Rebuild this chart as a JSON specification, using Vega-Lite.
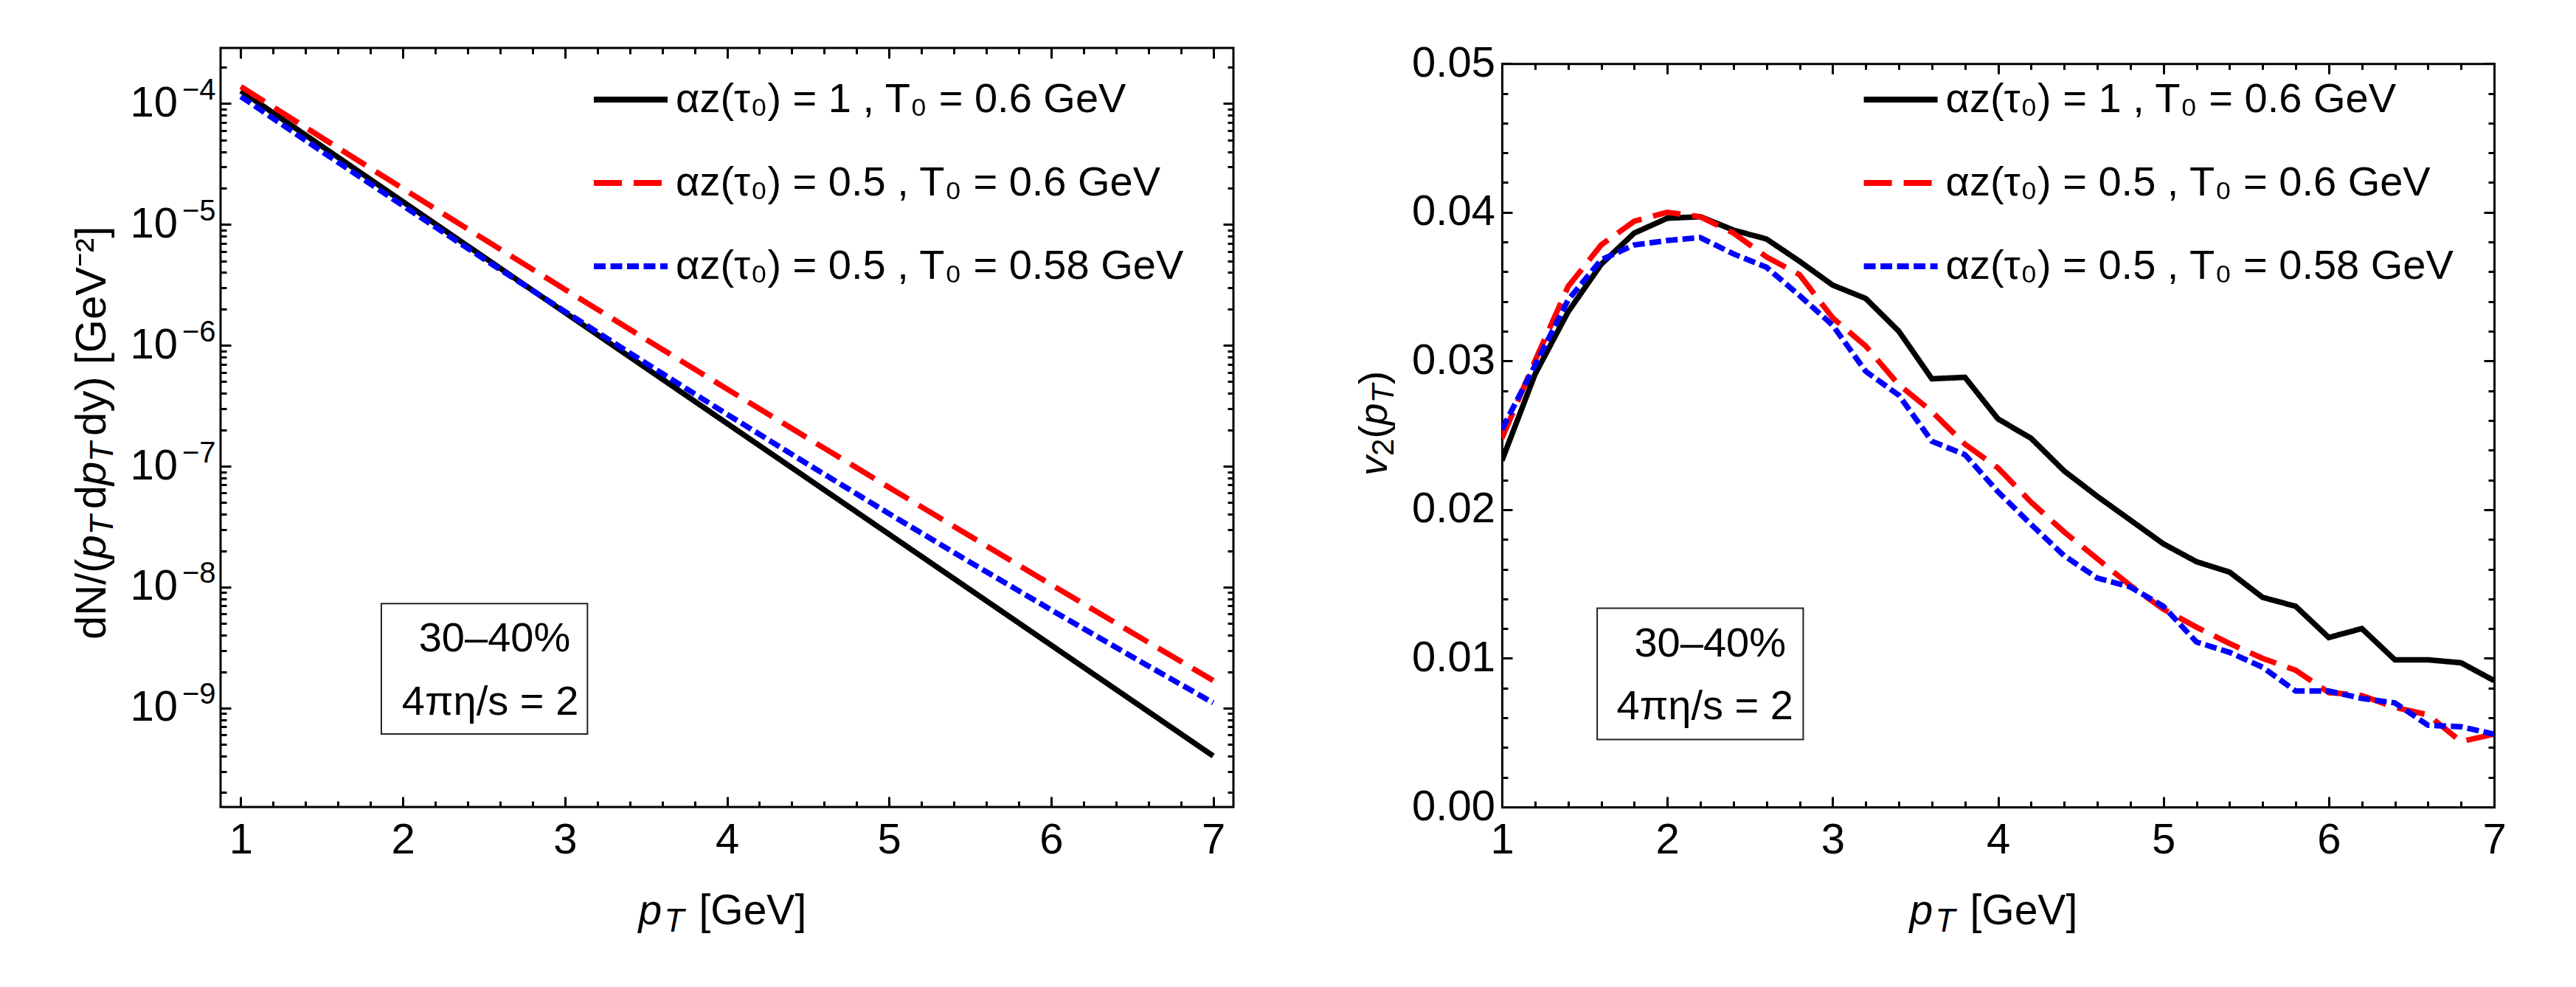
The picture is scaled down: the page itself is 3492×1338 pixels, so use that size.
{
  "$schema": "https://vega.github.io/schema/vega-lite/v6.json",
  "background": "white",
  "padding": {"left": 94, "top": 57, "right": 20, "bottom": 20},
  "config": {
    "font": "Liberation Sans",
    "view": {"stroke": "black", "strokeWidth": 3},
    "axis": {
      "domain": false, "grid": false,
      "domainColor": "black", "domainWidth": 3, "domainCap": "square",
      "labelFont": "Liberation Sans", "labelFontSize": 58, "labelColor": "black",
      "labelFlush": false, "labelOverlap": false, "labelBound": false,
      "tickColor": "black", "tickWidth": 3,
      "titleFont": "Liberation Sans", "titleFontSize": 57, "titleFontWeight": "normal", "titleColor": "black"
    },
    "axisLeft": {"titleAngle": 270, "titleAlign": "left", "titleBaseline": "alphabetic", "titleAnchor": null},
    "axisBottom": {"titleAngle": 0, "titleAlign": "left", "titleBaseline": "alphabetic", "titleAnchor": null},
    "legend": {
      "title": null, "orient": "none", "padding": 0,
      "symbolType": "stroke", "symbolSize": 10000, "symbolStrokeWidth": 8,
      "labelFont": "Liberation Sans", "labelFontSize": 56, "labelColor": "black",
      "labelOffset": 7, "labelLimit": 0, "rowPadding": 31
    }
  },
  "datasets": {
    "spectra": [
      {"series": "αz(τ₀) = 1 , T₀ = 0.6 GeV", "pT": 1.0, "dN": 1.274e-4},
      {"series": "αz(τ₀) = 1 , T₀ = 0.6 GeV", "pT": 1.5, "dN": 4.432e-5},
      {"series": "αz(τ₀) = 1 , T₀ = 0.6 GeV", "pT": 2.0, "dN": 1.542e-5},
      {"series": "αz(τ₀) = 1 , T₀ = 0.6 GeV", "pT": 2.5, "dN": 5.368e-6},
      {"series": "αz(τ₀) = 1 , T₀ = 0.6 GeV", "pT": 3.0, "dN": 1.868e-6},
      {"series": "αz(τ₀) = 1 , T₀ = 0.6 GeV", "pT": 3.5, "dN": 6.501e-7},
      {"series": "αz(τ₀) = 1 , T₀ = 0.6 GeV", "pT": 4.0, "dN": 2.262e-7},
      {"series": "αz(τ₀) = 1 , T₀ = 0.6 GeV", "pT": 4.5, "dN": 7.875e-8},
      {"series": "αz(τ₀) = 1 , T₀ = 0.6 GeV", "pT": 5.0, "dN": 2.740e-8},
      {"series": "αz(τ₀) = 1 , T₀ = 0.6 GeV", "pT": 5.5, "dN": 9.537e-9},
      {"series": "αz(τ₀) = 1 , T₀ = 0.6 GeV", "pT": 6.0, "dN": 3.319e-9},
      {"series": "αz(τ₀) = 1 , T₀ = 0.6 GeV", "pT": 6.5, "dN": 1.155e-9},
      {"series": "αz(τ₀) = 1 , T₀ = 0.6 GeV", "pT": 7.0, "dN": 4.019e-10},
      {"series": "αz(τ₀) = 0.5 , T₀ = 0.6 GeV", "pT": 1.0, "dN": 1.380e-4},
      {"series": "αz(τ₀) = 0.5 , T₀ = 0.6 GeV", "pT": 1.5, "dN": 5.211e-5},
      {"series": "αz(τ₀) = 0.5 , T₀ = 0.6 GeV", "pT": 2.0, "dN": 1.978e-5},
      {"series": "αz(τ₀) = 0.5 , T₀ = 0.6 GeV", "pT": 2.5, "dN": 7.555e-6},
      {"series": "αz(τ₀) = 0.5 , T₀ = 0.6 GeV", "pT": 3.0, "dN": 2.901e-6},
      {"series": "αz(τ₀) = 0.5 , T₀ = 0.6 GeV", "pT": 3.5, "dN": 1.121e-6},
      {"series": "αz(τ₀) = 0.5 , T₀ = 0.6 GeV", "pT": 4.0, "dN": 4.354e-7},
      {"series": "αz(τ₀) = 0.5 , T₀ = 0.6 GeV", "pT": 4.5, "dN": 1.701e-7},
      {"series": "αz(τ₀) = 0.5 , T₀ = 0.6 GeV", "pT": 5.0, "dN": 6.686e-8},
      {"series": "αz(τ₀) = 0.5 , T₀ = 0.6 GeV", "pT": 5.5, "dN": 2.643e-8},
      {"series": "αz(τ₀) = 0.5 , T₀ = 0.6 GeV", "pT": 6.0, "dN": 1.051e-8},
      {"series": "αz(τ₀) = 0.5 , T₀ = 0.6 GeV", "pT": 6.5, "dN": 4.202e-9},
      {"series": "αz(τ₀) = 0.5 , T₀ = 0.6 GeV", "pT": 7.0, "dN": 1.690e-9},
      {"series": "αz(τ₀) = 0.5 , T₀ = 0.58 GeV", "pT": 1.0, "dN": 1.143e-4},
      {"series": "αz(τ₀) = 0.5 , T₀ = 0.58 GeV", "pT": 1.5, "dN": 4.012e-5},
      {"series": "αz(τ₀) = 0.5 , T₀ = 0.58 GeV", "pT": 2.0, "dN": 1.430e-5},
      {"series": "αz(τ₀) = 0.5 , T₀ = 0.58 GeV", "pT": 2.5, "dN": 5.177e-6},
      {"series": "αz(τ₀) = 0.5 , T₀ = 0.58 GeV", "pT": 3.0, "dN": 1.903e-6},
      {"series": "αz(τ₀) = 0.5 , T₀ = 0.58 GeV", "pT": 3.5, "dN": 7.105e-7},
      {"series": "αz(τ₀) = 0.5 , T₀ = 0.58 GeV", "pT": 4.0, "dN": 2.694e-7},
      {"series": "αz(τ₀) = 0.5 , T₀ = 0.58 GeV", "pT": 4.5, "dN": 1.037e-7},
      {"series": "αz(τ₀) = 0.5 , T₀ = 0.58 GeV", "pT": 5.0, "dN": 4.054e-8},
      {"series": "αz(τ₀) = 0.5 , T₀ = 0.58 GeV", "pT": 5.5, "dN": 1.609e-8},
      {"series": "αz(τ₀) = 0.5 , T₀ = 0.58 GeV", "pT": 6.0, "dN": 6.489e-9},
      {"series": "αz(τ₀) = 0.5 , T₀ = 0.58 GeV", "pT": 6.5, "dN": 2.657e-9},
      {"series": "αz(τ₀) = 0.5 , T₀ = 0.58 GeV", "pT": 7.0, "dN": 1.105e-9}
    ],
    "flow": [
      {"series": "αz(τ₀) = 1 , T₀ = 0.6 GeV", "pT": 1.0, "v2": 0.0233},
      {"series": "αz(τ₀) = 1 , T₀ = 0.6 GeV", "pT": 1.2, "v2": 0.0291},
      {"series": "αz(τ₀) = 1 , T₀ = 0.6 GeV", "pT": 1.4, "v2": 0.0333},
      {"series": "αz(τ₀) = 1 , T₀ = 0.6 GeV", "pT": 1.6, "v2": 0.0365},
      {"series": "αz(τ₀) = 1 , T₀ = 0.6 GeV", "pT": 1.8, "v2": 0.0386},
      {"series": "αz(τ₀) = 1 , T₀ = 0.6 GeV", "pT": 2.0, "v2": 0.0396},
      {"series": "αz(τ₀) = 1 , T₀ = 0.6 GeV", "pT": 2.2, "v2": 0.0397},
      {"series": "αz(τ₀) = 1 , T₀ = 0.6 GeV", "pT": 2.4, "v2": 0.0388},
      {"series": "αz(τ₀) = 1 , T₀ = 0.6 GeV", "pT": 2.6, "v2": 0.0382},
      {"series": "αz(τ₀) = 1 , T₀ = 0.6 GeV", "pT": 2.8, "v2": 0.0367},
      {"series": "αz(τ₀) = 1 , T₀ = 0.6 GeV", "pT": 3.0, "v2": 0.0351},
      {"series": "αz(τ₀) = 1 , T₀ = 0.6 GeV", "pT": 3.2, "v2": 0.0342},
      {"series": "αz(τ₀) = 1 , T₀ = 0.6 GeV", "pT": 3.4, "v2": 0.0320},
      {"series": "αz(τ₀) = 1 , T₀ = 0.6 GeV", "pT": 3.6, "v2": 0.0288},
      {"series": "αz(τ₀) = 1 , T₀ = 0.6 GeV", "pT": 3.8, "v2": 0.0289},
      {"series": "αz(τ₀) = 1 , T₀ = 0.6 GeV", "pT": 4.0, "v2": 0.0261},
      {"series": "αz(τ₀) = 1 , T₀ = 0.6 GeV", "pT": 4.2, "v2": 0.0248},
      {"series": "αz(τ₀) = 1 , T₀ = 0.6 GeV", "pT": 4.4, "v2": 0.0226},
      {"series": "αz(τ₀) = 1 , T₀ = 0.6 GeV", "pT": 4.6, "v2": 0.0209},
      {"series": "αz(τ₀) = 1 , T₀ = 0.6 GeV", "pT": 4.8, "v2": 0.0193},
      {"series": "αz(τ₀) = 1 , T₀ = 0.6 GeV", "pT": 5.0, "v2": 0.0177},
      {"series": "αz(τ₀) = 1 , T₀ = 0.6 GeV", "pT": 5.2, "v2": 0.0165},
      {"series": "αz(τ₀) = 1 , T₀ = 0.6 GeV", "pT": 5.4, "v2": 0.0158},
      {"series": "αz(τ₀) = 1 , T₀ = 0.6 GeV", "pT": 5.6, "v2": 0.0141},
      {"series": "αz(τ₀) = 1 , T₀ = 0.6 GeV", "pT": 5.8, "v2": 0.0135},
      {"series": "αz(τ₀) = 1 , T₀ = 0.6 GeV", "pT": 6.0, "v2": 0.0114},
      {"series": "αz(τ₀) = 1 , T₀ = 0.6 GeV", "pT": 6.2, "v2": 0.0120},
      {"series": "αz(τ₀) = 1 , T₀ = 0.6 GeV", "pT": 6.4, "v2": 0.0099},
      {"series": "αz(τ₀) = 1 , T₀ = 0.6 GeV", "pT": 6.6, "v2": 0.0099},
      {"series": "αz(τ₀) = 1 , T₀ = 0.6 GeV", "pT": 6.8, "v2": 0.0097},
      {"series": "αz(τ₀) = 1 , T₀ = 0.6 GeV", "pT": 7.0, "v2": 0.0085},
      {"series": "αz(τ₀) = 0.5 , T₀ = 0.6 GeV", "pT": 1.0, "v2": 0.0248},
      {"series": "αz(τ₀) = 0.5 , T₀ = 0.6 GeV", "pT": 1.2, "v2": 0.0300},
      {"series": "αz(τ₀) = 0.5 , T₀ = 0.6 GeV", "pT": 1.4, "v2": 0.0350},
      {"series": "αz(τ₀) = 0.5 , T₀ = 0.6 GeV", "pT": 1.6, "v2": 0.0378},
      {"series": "αz(τ₀) = 0.5 , T₀ = 0.6 GeV", "pT": 1.8, "v2": 0.0394},
      {"series": "αz(τ₀) = 0.5 , T₀ = 0.6 GeV", "pT": 2.0, "v2": 0.0400},
      {"series": "αz(τ₀) = 0.5 , T₀ = 0.6 GeV", "pT": 2.2, "v2": 0.0397},
      {"series": "αz(τ₀) = 0.5 , T₀ = 0.6 GeV", "pT": 2.4, "v2": 0.0386},
      {"series": "αz(τ₀) = 0.5 , T₀ = 0.6 GeV", "pT": 2.6, "v2": 0.0370},
      {"series": "αz(τ₀) = 0.5 , T₀ = 0.6 GeV", "pT": 2.8, "v2": 0.0358},
      {"series": "αz(τ₀) = 0.5 , T₀ = 0.6 GeV", "pT": 3.0, "v2": 0.0329},
      {"series": "αz(τ₀) = 0.5 , T₀ = 0.6 GeV", "pT": 3.2, "v2": 0.0310},
      {"series": "αz(τ₀) = 0.5 , T₀ = 0.6 GeV", "pT": 3.4, "v2": 0.0284},
      {"series": "αz(τ₀) = 0.5 , T₀ = 0.6 GeV", "pT": 3.6, "v2": 0.0266},
      {"series": "αz(τ₀) = 0.5 , T₀ = 0.6 GeV", "pT": 3.8, "v2": 0.0244},
      {"series": "αz(τ₀) = 0.5 , T₀ = 0.6 GeV", "pT": 4.0, "v2": 0.0228},
      {"series": "αz(τ₀) = 0.5 , T₀ = 0.6 GeV", "pT": 4.2, "v2": 0.0205},
      {"series": "αz(τ₀) = 0.5 , T₀ = 0.6 GeV", "pT": 4.4, "v2": 0.0185},
      {"series": "αz(τ₀) = 0.5 , T₀ = 0.6 GeV", "pT": 4.6, "v2": 0.0167},
      {"series": "αz(τ₀) = 0.5 , T₀ = 0.6 GeV", "pT": 4.8, "v2": 0.0149},
      {"series": "αz(τ₀) = 0.5 , T₀ = 0.6 GeV", "pT": 5.0, "v2": 0.0133},
      {"series": "αz(τ₀) = 0.5 , T₀ = 0.6 GeV", "pT": 5.2, "v2": 0.0121},
      {"series": "αz(τ₀) = 0.5 , T₀ = 0.6 GeV", "pT": 5.4, "v2": 0.0110},
      {"series": "αz(τ₀) = 0.5 , T₀ = 0.6 GeV", "pT": 5.6, "v2": 0.0100},
      {"series": "αz(τ₀) = 0.5 , T₀ = 0.6 GeV", "pT": 5.8, "v2": 0.0092},
      {"series": "αz(τ₀) = 0.5 , T₀ = 0.6 GeV", "pT": 6.0, "v2": 0.0077},
      {"series": "αz(τ₀) = 0.5 , T₀ = 0.6 GeV", "pT": 6.2, "v2": 0.0075},
      {"series": "αz(τ₀) = 0.5 , T₀ = 0.6 GeV", "pT": 6.4, "v2": 0.0067},
      {"series": "αz(τ₀) = 0.5 , T₀ = 0.6 GeV", "pT": 6.6, "v2": 0.0062},
      {"series": "αz(τ₀) = 0.5 , T₀ = 0.6 GeV", "pT": 6.8, "v2": 0.0044},
      {"series": "αz(τ₀) = 0.5 , T₀ = 0.6 GeV", "pT": 7.0, "v2": 0.0049},
      {"series": "αz(τ₀) = 0.5 , T₀ = 0.58 GeV", "pT": 1.0, "v2": 0.0254},
      {"series": "αz(τ₀) = 0.5 , T₀ = 0.58 GeV", "pT": 1.2, "v2": 0.0297},
      {"series": "αz(τ₀) = 0.5 , T₀ = 0.58 GeV", "pT": 1.4, "v2": 0.0341},
      {"series": "αz(τ₀) = 0.5 , T₀ = 0.58 GeV", "pT": 1.6, "v2": 0.0368},
      {"series": "αz(τ₀) = 0.5 , T₀ = 0.58 GeV", "pT": 1.8, "v2": 0.0378},
      {"series": "αz(τ₀) = 0.5 , T₀ = 0.58 GeV", "pT": 2.0, "v2": 0.0381},
      {"series": "αz(τ₀) = 0.5 , T₀ = 0.58 GeV", "pT": 2.2, "v2": 0.0383},
      {"series": "αz(τ₀) = 0.5 , T₀ = 0.58 GeV", "pT": 2.4, "v2": 0.0372},
      {"series": "αz(τ₀) = 0.5 , T₀ = 0.58 GeV", "pT": 2.6, "v2": 0.0363},
      {"series": "αz(τ₀) = 0.5 , T₀ = 0.58 GeV", "pT": 2.8, "v2": 0.0344},
      {"series": "αz(τ₀) = 0.5 , T₀ = 0.58 GeV", "pT": 3.0, "v2": 0.0324},
      {"series": "αz(τ₀) = 0.5 , T₀ = 0.58 GeV", "pT": 3.2, "v2": 0.0293},
      {"series": "αz(τ₀) = 0.5 , T₀ = 0.58 GeV", "pT": 3.4, "v2": 0.0277},
      {"series": "αz(τ₀) = 0.5 , T₀ = 0.58 GeV", "pT": 3.6, "v2": 0.0246},
      {"series": "αz(τ₀) = 0.5 , T₀ = 0.58 GeV", "pT": 3.8, "v2": 0.0237},
      {"series": "αz(τ₀) = 0.5 , T₀ = 0.58 GeV", "pT": 4.0, "v2": 0.0212},
      {"series": "αz(τ₀) = 0.5 , T₀ = 0.58 GeV", "pT": 4.2, "v2": 0.0190},
      {"series": "αz(τ₀) = 0.5 , T₀ = 0.58 GeV", "pT": 4.4, "v2": 0.0169},
      {"series": "αz(τ₀) = 0.5 , T₀ = 0.58 GeV", "pT": 4.6, "v2": 0.0154},
      {"series": "αz(τ₀) = 0.5 , T₀ = 0.58 GeV", "pT": 4.8, "v2": 0.0148},
      {"series": "αz(τ₀) = 0.5 , T₀ = 0.58 GeV", "pT": 5.0, "v2": 0.0135},
      {"series": "αz(τ₀) = 0.5 , T₀ = 0.58 GeV", "pT": 5.2, "v2": 0.0111},
      {"series": "αz(τ₀) = 0.5 , T₀ = 0.58 GeV", "pT": 5.4, "v2": 0.0104},
      {"series": "αz(τ₀) = 0.5 , T₀ = 0.58 GeV", "pT": 5.6, "v2": 0.0094},
      {"series": "αz(τ₀) = 0.5 , T₀ = 0.58 GeV", "pT": 5.8, "v2": 0.0078},
      {"series": "αz(τ₀) = 0.5 , T₀ = 0.58 GeV", "pT": 6.0, "v2": 0.0078},
      {"series": "αz(τ₀) = 0.5 , T₀ = 0.58 GeV", "pT": 6.2, "v2": 0.0073},
      {"series": "αz(τ₀) = 0.5 , T₀ = 0.58 GeV", "pT": 6.4, "v2": 0.0070},
      {"series": "αz(τ₀) = 0.5 , T₀ = 0.58 GeV", "pT": 6.6, "v2": 0.0055},
      {"series": "αz(τ₀) = 0.5 , T₀ = 0.58 GeV", "pT": 6.8, "v2": 0.0054},
      {"series": "αz(τ₀) = 0.5 , T₀ = 0.58 GeV", "pT": 7.0, "v2": 0.0049}
    ]
  },
  "resolve": {
    "scale": {"x": "independent", "y": "independent", "color": "independent", "strokeDash": "independent"},
    "legend": {"color": "independent", "strokeDash": "independent"}
  },
  "spacing": 161,
  "hconcat": [
    {
      "width": 1373,
      "height": 1029,
      "data": {"name": "spectra"},
      "resolve": {"axis": {"x": "independent", "y": "independent"}},
      "layer": [
        {
          "mark": {"type": "line", "strokeWidth": 7.5, "strokeCap": "butt", "clip": true},
          "encoding": {
            "x": {"field": "pT", "type": "quantitative",
                  "scale": {"domain": [0.875, 7.125], "nice": false, "zero": false},
                  "axis": {"orient": "bottom", "values": [1, 2, 3, 4, 5, 6, 7], "format": "d", "ticks": false,
                           "labelPadding": 16, "title": "[GeV]", "titleX": 648, "titleY": 158}},
            "y": {"field": "dN", "type": "quantitative",
                  "scale": {"type": "log", "domain": [1.52e-10, 2.88e-4], "nice": false},
                  "axis": {"orient": "left", "values": [1e-9, 1e-8, 1e-7, 1e-6, 1e-5, 1e-4], "labelExpr": "'10'",
                           "ticks": false, "labelPadding": 58.5,
                           "title": "dN/(", "titleFontSize": 58, "titleX": -157, "titleY": 801.5}},
            "color": {"field": "series", "type": "nominal",
                      "scale": {"domain": ["αz(τ₀) = 1 , T₀ = 0.6 GeV", "αz(τ₀) = 0.5 , T₀ = 0.6 GeV", "αz(τ₀) = 0.5 , T₀ = 0.58 GeV"],
                                "range": ["#000000", "#ff0000", "#0000ff"]},
                      "legend": {"legendX": 502, "legendY": 16}},
            "strokeDash": {"field": "series", "type": "nominal",
                           "scale": {"domain": ["αz(τ₀) = 1 , T₀ = 0.6 GeV", "αz(τ₀) = 0.5 , T₀ = 0.6 GeV", "αz(τ₀) = 0.5 , T₀ = 0.58 GeV"],
                                     "range": [[1, 0], [38, 16], [16, 6.5]]},
                           "legend": {"legendX": 502, "legendY": 16}}
          }
        },
        {
          "mark": {"type": "line", "strokeOpacity": 0},
          "encoding": {
            "x": {"field": "pT", "type": "quantitative",
                  "scale": {"domain": [0.875, 7.125], "nice": false, "zero": false},
                  "axis": {"orient": "bottom", "values": [1, 2, 3, 4, 5, 6, 7], "labels": false, "tickSize": -14,
                           "title": "p", "titleFontStyle": "italic", "titleX": 566, "titleY": 158}},
            "y": {"field": "dN", "type": "quantitative",
                  "scale": {"type": "log", "domain": [1.52e-10, 2.88e-4], "nice": false},
                  "axis": {"orient": "left", "values": [1e-9, 1e-8, 1e-7, 1e-6, 1e-5, 1e-4], "labels": false, "tickSize": -14,
                           "title": "p", "titleFontStyle": "italic", "titleFontSize": 58, "titleX": -157, "titleY": 691.9}}
          }
        },
        {
          "mark": {"type": "line", "strokeOpacity": 0},
          "encoding": {
            "x": {"field": "pT", "type": "quantitative",
                  "scale": {"domain": [0.875, 7.125], "nice": false, "zero": false},
                  "axis": {"orient": "bottom", "labels": false, "tickSize": -8,
                           "title": "T", "titleFontStyle": "italic", "titleFontSize": 44, "titleX": 601, "titleY": 168,
                           "values": [1.2, 1.4, 1.6, 1.8, 2.2, 2.4, 2.6, 2.8, 3.2, 3.4, 3.6, 3.8, 4.2, 4.4, 4.6, 4.8, 5.2, 5.4, 5.6, 5.8, 6.2, 6.4, 6.6, 6.8]}},
            "y": {"field": "dN", "type": "quantitative",
                  "scale": {"type": "log", "domain": [1.52e-10, 2.88e-4], "nice": false},
                  "axis": {"orient": "left", "labels": false, "tickSize": -8,
                           "title": "T", "titleFontStyle": "italic", "titleFontSize": 44, "titleX": -147, "titleY": 659.7,
                           "values": [2e-10, 3e-10, 4e-10, 5e-10, 6e-10, 7e-10, 8e-10, 9e-10,
                                      2e-9, 3e-9, 4e-9, 5e-9, 6e-9, 7e-9, 8e-9, 9e-9,
                                      2e-8, 3e-8, 4e-8, 5e-8, 6e-8, 7e-8, 8e-8, 9e-8,
                                      2e-7, 3e-7, 4e-7, 5e-7, 6e-7, 7e-7, 8e-7, 9e-7,
                                      2e-6, 3e-6, 4e-6, 5e-6, 6e-6, 7e-6, 8e-6, 9e-6,
                                      2e-5, 3e-5, 4e-5, 5e-5, 6e-5, 7e-5, 8e-5, 9e-5, 2e-4]}}
          }
        },
        {
          "mark": {"type": "line", "strokeOpacity": 0},
          "encoding": {
            "x": {"field": "pT", "type": "quantitative",
                  "scale": {"domain": [0.875, 7.125], "nice": false, "zero": false},
                  "axis": {"orient": "top", "values": [1, 2, 3, 4, 5, 6, 7], "labels": false, "tickSize": -14, "title": null}},
            "y": {"field": "dN", "type": "quantitative",
                  "scale": {"type": "log", "domain": [1.52e-10, 2.88e-4], "nice": false},
                  "axis": {"orient": "right", "values": [1e-9, 1e-8, 1e-7, 1e-6, 1e-5, 1e-4], "labels": false, "tickSize": -14, "title": null}}
          }
        },
        {
          "mark": {"type": "line", "strokeOpacity": 0},
          "encoding": {
            "x": {"field": "pT", "type": "quantitative",
                  "scale": {"domain": [0.875, 7.125], "nice": false, "zero": false},
                  "axis": {"orient": "top", "labels": false, "tickSize": -8, "title": null,
                           "values": [1.2, 1.4, 1.6, 1.8, 2.2, 2.4, 2.6, 2.8, 3.2, 3.4, 3.6, 3.8, 4.2, 4.4, 4.6, 4.8, 5.2, 5.4, 5.6, 5.8, 6.2, 6.4, 6.6, 6.8]}},
            "y": {"field": "dN", "type": "quantitative",
                  "scale": {"type": "log", "domain": [1.52e-10, 2.88e-4], "nice": false},
                  "axis": {"orient": "right", "labels": false, "tickSize": -8, "title": null,
                           "values": [2e-10, 3e-10, 4e-10, 5e-10, 6e-10, 7e-10, 8e-10, 9e-10,
                                      2e-9, 3e-9, 4e-9, 5e-9, 6e-9, 7e-9, 8e-9, 9e-9,
                                      2e-8, 3e-8, 4e-8, 5e-8, 6e-8, 7e-8, 8e-8, 9e-8,
                                      2e-7, 3e-7, 4e-7, 5e-7, 6e-7, 7e-7, 8e-7, 9e-7,
                                      2e-6, 3e-6, 4e-6, 5e-6, 6e-6, 7e-6, 8e-6, 9e-6,
                                      2e-5, 3e-5, 4e-5, 5e-5, 6e-5, 7e-5, 8e-5, 9e-5, 2e-4]}}
          }
        },
        {
          "mark": {"type": "line", "strokeOpacity": 0},
          "encoding": {
            "x": {"field": "pT", "type": "quantitative",
                  "scale": {"domain": [0.875, 7.125], "nice": false, "zero": false}, "axis": null},
            "y": {"field": "dN", "type": "quantitative",
                  "scale": {"type": "log", "domain": [1.52e-10, 2.88e-4], "nice": false},
                  "axis": {"orient": "left", "values": [1e-9, 1e-8, 1e-7, 1e-6, 1e-5, 1e-4], "ticks": false,
                           "labelExpr": "'−' + round(-log(datum.value) / LN10)", "labelFontSize": 40,
                           "labelPadding": 7, "labelOffset": -18,
                           "title": "d", "titleFontSize": 58, "titleX": -157, "titleY": 624.8}}
          }
        },
        {
          "mark": {"type": "line", "strokeOpacity": 0},
          "encoding": {
            "x": {"field": "pT", "type": "quantitative",
                  "scale": {"domain": [0.875, 7.125], "nice": false, "zero": false}, "axis": null},
            "y": {"field": "dN", "type": "quantitative",
                  "scale": {"type": "log", "domain": [1.52e-10, 2.88e-4], "nice": false},
                  "axis": {"orient": "left", "labels": false, "ticks": false,
                           "title": "p", "titleFontStyle": "italic", "titleFontSize": 58, "titleX": -157, "titleY": 592.6}}
          }
        },
        {
          "mark": {"type": "line", "strokeOpacity": 0},
          "encoding": {
            "x": {"field": "pT", "type": "quantitative",
                  "scale": {"domain": [0.875, 7.125], "nice": false, "zero": false}, "axis": null},
            "y": {"field": "dN", "type": "quantitative",
                  "scale": {"type": "log", "domain": [1.52e-10, 2.88e-4], "nice": false},
                  "axis": {"orient": "left", "labels": false, "ticks": false,
                           "title": "T", "titleFontStyle": "italic", "titleFontSize": 44, "titleX": -147, "titleY": 560.4}}
          }
        },
        {
          "mark": {"type": "line", "strokeOpacity": 0},
          "encoding": {
            "x": {"field": "pT", "type": "quantitative",
                  "scale": {"domain": [0.875, 7.125], "nice": false, "zero": false}, "axis": null},
            "y": {"field": "dN", "type": "quantitative",
                  "scale": {"type": "log", "domain": [1.52e-10, 2.88e-4], "nice": false},
                  "axis": {"orient": "left", "labels": false, "ticks": false,
                           "title": "dy) [GeV⁻²]", "titleFontSize": 58, "titleX": -157, "titleY": 525.5}}
          }
        },
        {
          "data": {"values": [{}]},
          "mark": {"type": "rect", "fillOpacity": 0, "stroke": "#222222", "strokeWidth": 2},
          "encoding": {
            "x": {"datum": 1.867, "type": "quantitative", "scale": {"domain": [0.875, 7.125], "nice": false, "zero": false}, "axis": null},
            "x2": {"datum": 3.139},
            "y": {"datum": 7.31e-9, "type": "quantitative", "scale": {"type": "log", "domain": [1.52e-10, 2.88e-4], "nice": false}, "axis": null},
            "y2": {"datum": 6.11e-10}
          }
        },
        {
          "data": {"values": [{}]},
          "mark": {"type": "text", "fontSize": 56, "align": "center", "baseline": "alphabetic", "color": "black"},
          "encoding": {
            "x": {"datum": 2.566, "type": "quantitative", "scale": {"domain": [0.875, 7.125], "nice": false, "zero": false}, "axis": null},
            "y": {"datum": 2.939e-9, "type": "quantitative", "scale": {"type": "log", "domain": [1.52e-10, 2.88e-4], "nice": false}, "axis": null},
            "text": {"value": "30–40%"}
          }
        },
        {
          "data": {"values": [{}]},
          "mark": {"type": "text", "fontSize": 56, "align": "center", "baseline": "alphabetic", "color": "black"},
          "encoding": {
            "x": {"datum": 2.539, "type": "quantitative", "scale": {"domain": [0.875, 7.125], "nice": false, "zero": false}, "axis": null},
            "y": {"datum": 8.84e-10, "type": "quantitative", "scale": {"type": "log", "domain": [1.52e-10, 2.88e-4], "nice": false}, "axis": null},
            "text": {"value": "4πη/s = 2"}
          }
        }
      ]
    },
    {
      "width": 1345,
      "height": 1029,
      "view": {"stroke": null},
      "data": {"name": "flow"},
      "resolve": {"axis": {"x": "independent", "y": "independent"}},
      "layer": [
        {
          "mark": {"type": "line", "strokeWidth": 7.5, "strokeCap": "butt", "clip": true},
          "encoding": {
            "x": {"field": "pT", "type": "quantitative",
                  "scale": {"domain": [1, 7], "nice": false, "zero": false},
                  "axis": {"orient": "bottom", "values": [1, 2, 3, 4, 5, 6, 7], "format": "d", "ticks": false,
                           "labelPadding": 16, "title": "[GeV]", "titleX": 634, "titleY": 158}},
            "y": {"field": "v2", "type": "quantitative",
                  "scale": {"domain": [0, 0.05], "range": [1029, 21.2], "nice": false, "zero": false},
                  "axis": {"orient": "left", "values": [0, 0.01, 0.02, 0.03, 0.04, 0.05], "format": ".2f",
                           "ticks": false, "labelPadding": 9.5,
                           "title": "v", "titleFontStyle": "italic", "titleFontSize": 54, "titleX": -157, "titleY": 579.5}},
            "color": {"field": "series", "type": "nominal",
                      "scale": {"domain": ["αz(τ₀) = 1 , T₀ = 0.6 GeV", "αz(τ₀) = 0.5 , T₀ = 0.6 GeV", "αz(τ₀) = 0.5 , T₀ = 0.58 GeV"],
                                "range": ["#000000", "#ff0000", "#0000ff"]},
                      "legend": {"legendX": 486.6, "legendY": 16}},
            "strokeDash": {"field": "series", "type": "nominal",
                           "scale": {"domain": ["αz(τ₀) = 1 , T₀ = 0.6 GeV", "αz(τ₀) = 0.5 , T₀ = 0.6 GeV", "αz(τ₀) = 0.5 , T₀ = 0.58 GeV"],
                                     "range": [[1, 0], [38, 16], [16, 6.5]]},
                           "legend": {"legendX": 486.6, "legendY": 16}}
          }
        },
        {
          "mark": {"type": "line", "strokeOpacity": 0},
          "encoding": {
            "x": {"field": "pT", "type": "quantitative", "scale": {"domain": [1, 7], "nice": false, "zero": false},
                  "axis": {"orient": "bottom", "values": [1, 2, 3, 4, 5, 6, 7], "labels": false, "tickSize": -14, "domain": true,
                           "title": "p", "titleFontStyle": "italic", "titleX": 552, "titleY": 158}},
            "y": {"field": "v2", "type": "quantitative", "scale": {"domain": [0, 0.05], "range": [1029, 21.2], "nice": false, "zero": false},
                  "axis": {"orient": "left", "values": [0, 0.01, 0.02, 0.03, 0.04, 0.05], "labels": false, "tickSize": -14, "domain": true,
                           "title": "2", "titleFontSize": 42, "titleX": -148, "titleY": 552.5}}
          }
        },
        {
          "mark": {"type": "line", "strokeOpacity": 0},
          "encoding": {
            "x": {"field": "pT", "type": "quantitative", "scale": {"domain": [1, 7], "nice": false, "zero": false},
                  "axis": {"orient": "bottom", "labels": false, "tickSize": -8,
                           "title": "T", "titleFontStyle": "italic", "titleFontSize": 44, "titleX": 587, "titleY": 168,
                           "values": [1.2, 1.4, 1.6, 1.8, 2.2, 2.4, 2.6, 2.8, 3.2, 3.4, 3.6, 3.8, 4.2, 4.4, 4.6, 4.8, 5.2, 5.4, 5.6, 5.8, 6.2, 6.4, 6.6, 6.8]}},
            "y": {"field": "v2", "type": "quantitative", "scale": {"domain": [0, 0.05], "range": [1029, 21.2], "nice": false, "zero": false},
                  "axis": {"orient": "left", "labels": false, "tickSize": -8,
                           "title": "(", "titleFontSize": 54, "titleX": -157, "titleY": 529.1,
                           "values": [0.002, 0.004, 0.006, 0.008, 0.012, 0.014, 0.016, 0.018, 0.022, 0.024, 0.026, 0.028, 0.032, 0.034, 0.036, 0.038, 0.042, 0.044, 0.046, 0.048]}}
          }
        },
        {
          "mark": {"type": "line", "strokeOpacity": 0},
          "encoding": {
            "x": {"field": "pT", "type": "quantitative", "scale": {"domain": [1, 7], "nice": false, "zero": false},
                  "axis": {"orient": "top", "offset": -21.2, "values": [1, 2, 3, 4, 5, 6, 7], "labels": false, "tickSize": -14, "title": null, "domain": true}},
            "y": {"field": "v2", "type": "quantitative", "scale": {"domain": [0, 0.05], "range": [1029, 21.2], "nice": false, "zero": false},
                  "axis": {"orient": "right", "values": [0, 0.01, 0.02, 0.03, 0.04, 0.05], "labels": false, "tickSize": -14, "title": null, "domain": true}}
          }
        },
        {
          "mark": {"type": "line", "strokeOpacity": 0},
          "encoding": {
            "x": {"field": "pT", "type": "quantitative", "scale": {"domain": [1, 7], "nice": false, "zero": false},
                  "axis": {"orient": "top", "offset": -21.2, "labels": false, "tickSize": -8, "title": null,
                           "values": [1.2, 1.4, 1.6, 1.8, 2.2, 2.4, 2.6, 2.8, 3.2, 3.4, 3.6, 3.8, 4.2, 4.4, 4.6, 4.8, 5.2, 5.4, 5.6, 5.8, 6.2, 6.4, 6.6, 6.8]}},
            "y": {"field": "v2", "type": "quantitative", "scale": {"domain": [0, 0.05], "range": [1029, 21.2], "nice": false, "zero": false},
                  "axis": {"orient": "right", "labels": false, "tickSize": -8, "title": null,
                           "values": [0.002, 0.004, 0.006, 0.008, 0.012, 0.014, 0.016, 0.018, 0.022, 0.024, 0.026, 0.028, 0.032, 0.034, 0.036, 0.038, 0.042, 0.044, 0.046, 0.048]}}
          }
        },
        {
          "mark": {"type": "line", "strokeOpacity": 0},
          "encoding": {
            "x": {"field": "pT", "type": "quantitative", "scale": {"domain": [1, 7], "nice": false, "zero": false}, "axis": null},
            "y": {"field": "v2", "type": "quantitative", "scale": {"domain": [0, 0.05], "range": [1029, 21.2], "nice": false, "zero": false},
                  "axis": {"orient": "left", "labels": false, "ticks": false,
                           "title": "p", "titleFontStyle": "italic", "titleFontSize": 54, "titleX": -157, "titleY": 511.1}}
          }
        },
        {
          "mark": {"type": "line", "strokeOpacity": 0},
          "encoding": {
            "x": {"field": "pT", "type": "quantitative", "scale": {"domain": [1, 7], "nice": false, "zero": false}, "axis": null},
            "y": {"field": "v2", "type": "quantitative", "scale": {"domain": [0, 0.05], "range": [1029, 21.2], "nice": false, "zero": false},
                  "axis": {"orient": "left", "labels": false, "ticks": false,
                           "title": "T", "titleFontStyle": "italic", "titleFontSize": 42, "titleX": -148, "titleY": 481.1}}
          }
        },
        {
          "mark": {"type": "line", "strokeOpacity": 0},
          "encoding": {
            "x": {"field": "pT", "type": "quantitative", "scale": {"domain": [1, 7], "nice": false, "zero": false}, "axis": null},
            "y": {"field": "v2", "type": "quantitative", "scale": {"domain": [0, 0.05], "range": [1029, 21.2], "nice": false, "zero": false},
                  "axis": {"orient": "left", "labels": false, "ticks": false,
                           "title": ")", "titleFontSize": 54, "titleX": -157, "titleY": 455.4}}
          }
        },
        {
          "data": {"values": [{}]},
          "mark": {"type": "rect", "fillOpacity": 0, "stroke": "#222222", "strokeWidth": 2},
          "encoding": {
            "x": {"datum": 1.576, "type": "quantitative", "scale": {"domain": [1, 7], "nice": false, "zero": false}, "axis": null},
            "x2": {"datum": 2.822},
            "y": {"datum": 0.013365, "type": "quantitative", "scale": {"domain": [0, 0.05], "range": [1029, 21.2], "nice": false, "zero": false}, "axis": null},
            "y2": {"datum": 0.004541}
          }
        },
        {
          "data": {"values": [{}]},
          "mark": {"type": "text", "fontSize": 56, "align": "center", "baseline": "alphabetic", "color": "black"},
          "encoding": {
            "x": {"datum": 2.259, "type": "quantitative", "scale": {"domain": [1, 7], "nice": false, "zero": false}, "axis": null},
            "y": {"datum": 0.010139, "type": "quantitative", "scale": {"domain": [0, 0.05], "range": [1029, 21.2], "nice": false, "zero": false}, "axis": null},
            "text": {"value": "30–40%"}
          }
        },
        {
          "data": {"values": [{}]},
          "mark": {"type": "text", "fontSize": 56, "align": "center", "baseline": "alphabetic", "color": "black"},
          "encoding": {
            "x": {"datum": 2.228, "type": "quantitative", "scale": {"domain": [1, 7], "nice": false, "zero": false}, "axis": null},
            "y": {"datum": 0.005896, "type": "quantitative", "scale": {"domain": [0, 0.05], "range": [1029, 21.2], "nice": false, "zero": false}, "axis": null},
            "text": {"value": "4πη/s = 2"}
          }
        }
      ]
    }
  ]
}
